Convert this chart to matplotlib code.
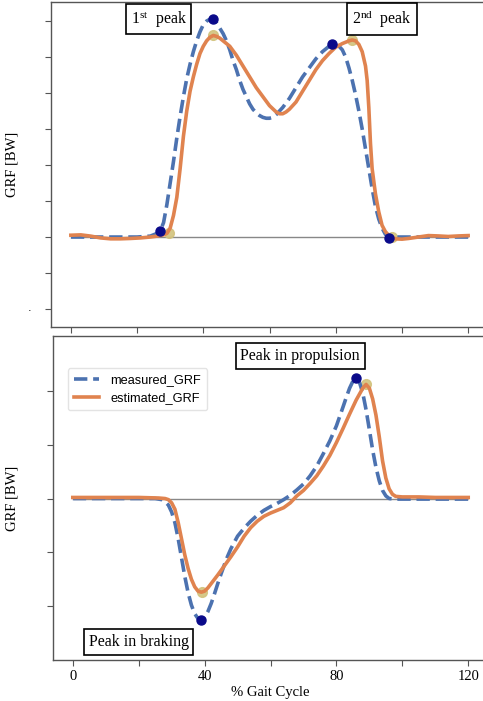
import numpy as np
import matplotlib
matplotlib.use("Agg")
import matplotlib.pyplot as plt

plt.rcParams['mathtext.fontset'] = 'custom'
plt.rcParams['mathtext.rm'] = 'Liberation Serif'
plt.rcParams['mathtext.it'] = 'Liberation Serif:italic'
serif = 'Liberation Serif'

# vertical GRF (top panel)
vx_meas = [0, 5, 10, 15, 20, 24, 26, 27, 28, 29, 30, 31, 32, 33, 34, 35, 36, 37, 38, 39,
           40, 41, 42, 43, 44, 45, 46, 47, 48, 49, 50, 51, 52, 53, 54, 55, 56, 57, 58, 59,
           60, 61, 62, 63, 64, 66, 68, 70, 72, 74, 76, 78, 79, 80, 81, 82, 83, 84, 85, 86,
           87, 88, 89, 90, 91, 92, 93, 94, 95, 96, 97, 98, 100, 105, 110, 115, 120]
vy_meas = [0, 0, 0, 0, 0, 0.005, 0.02, 0.035, 0.08, 0.18, 0.3, 0.42, 0.55, 0.67, 0.78, 0.88, 0.96, 1.03, 1.09, 1.14,
           1.18, 1.20, 1.21, 1.21, 1.19, 1.16, 1.13, 1.09, 1.04, 0.98, 0.93, 0.87, 0.82, 0.78, 0.74, 0.71, 0.69, 0.675, 0.665, 0.66,
           0.66, 0.665, 0.68, 0.70, 0.72, 0.77, 0.83, 0.89, 0.94, 0.99, 1.03, 1.06, 1.07, 1.07, 1.06, 1.04, 1.00, 0.94, 0.87, 0.79,
           0.70, 0.60, 0.49, 0.38, 0.27, 0.17, 0.10, 0.05, 0.015, 0.0, -0.005, 0, 0, 0, 0, 0, 0]

vx_est = [0, 3, 6, 9, 12, 15, 18, 21, 24, 26, 28, 29, 30, 31, 32, 33, 34, 35, 36, 37,
          38, 39, 40, 41, 42, 43, 44, 45, 46, 48, 50, 52, 54, 56, 58, 60, 62, 63, 64, 65,
          66, 68, 70, 72, 74, 76, 78, 80, 82, 84, 85, 86, 87, 88, 89, 89.5, 90, 90.5, 91, 92,
          93, 94, 95, 96, 97, 98, 100, 102, 105, 108, 111, 114, 117, 120]
vy_est = [0.01, 0.012, 0.005, -0.005, -0.01, -0.01, -0.008, -0.005, 0.0, 0.005, 0.012, 0.02, 0.05, 0.12, 0.22, 0.38, 0.56, 0.70, 0.81, 0.89,
          0.96, 1.02, 1.06, 1.09, 1.11, 1.12, 1.115, 1.105, 1.09, 1.06, 1.01, 0.95, 0.89, 0.83, 0.78, 0.73, 0.695, 0.685, 0.685, 0.695,
          0.71, 0.75, 0.81, 0.87, 0.93, 0.98, 1.02, 1.055, 1.075, 1.09, 1.095, 1.09, 1.07, 1.03, 0.95, 0.87, 0.72, 0.52, 0.38, 0.24,
          0.14, 0.065, 0.03, 0.01, 0.0, -0.01, -0.012, -0.008, 0.0, 0.008, 0.006, 0.003, 0.006, 0.008]

v_meas_peaks_x = [27, 43, 79, 96]
v_meas_peaks_y = [0.035, 1.21, 1.07, -0.005]
v_est_peaks_x = [29.5, 43, 85, 97]
v_est_peaks_y = [0.02, 1.12, 1.095, 0.0]

# anterior-posterior GRF (bottom panel)
ax_meas = [0, 5, 10, 15, 20, 25, 27, 28, 29, 30, 31, 32, 33, 34, 35, 36, 37, 38, 39, 40,
           41, 42, 43, 44, 45, 46, 47, 48, 50, 52, 54, 56, 58, 60, 62, 64, 66, 68, 70, 72,
           74, 76, 78, 80, 82, 83, 84, 85, 86, 87, 88, 89, 90, 91, 92, 93, 94, 95, 96, 98,
           100, 105, 110, 115, 120]
ay_meas = [0, 0, 0, 0, 0, 0, -0.002, -0.006, -0.012, -0.025, -0.045, -0.075, -0.11, -0.145, -0.175, -0.198, -0.214, -0.223, -0.226, -0.221,
           -0.21, -0.195, -0.177, -0.158, -0.14, -0.123, -0.107, -0.093, -0.07, -0.055, -0.042, -0.031, -0.022, -0.015, -0.009, -0.002, 0.006, 0.016, 0.027, 0.042,
           0.06, 0.083, 0.107, 0.135, 0.17, 0.188, 0.205, 0.218, 0.224, 0.216, 0.196, 0.165, 0.128, 0.09, 0.058, 0.033, 0.015, 0.005, 0.0, -0.001,
           -0.001, -0.001, -0.001, -0.001, -0.001]

ax_est = [0, 10, 20, 26, 28, 29, 30, 31, 32, 33, 34, 35, 36, 37, 38, 39, 40, 41, 42, 44,
          46, 48, 50, 52, 54, 56, 58, 60, 62, 64, 66, 68, 70, 72, 74, 76, 78, 80, 82, 84,
          86, 88, 89, 90, 91, 92, 93, 94, 95, 96, 97, 98, 100, 105, 110, 115, 120]
ay_est = [0.002, 0.002, 0.002, 0.001, 0.0, -0.002, -0.008, -0.02, -0.045, -0.075, -0.105, -0.13, -0.15, -0.164, -0.172, -0.174, -0.172, -0.166, -0.158, -0.142,
          -0.125, -0.108, -0.09, -0.07, -0.054, -0.042, -0.033, -0.027, -0.022, -0.017, -0.008, 0.005, 0.015, 0.028, 0.042, 0.06, 0.08, 0.104, 0.13, 0.157,
          0.183, 0.205, 0.212, 0.205, 0.185, 0.155, 0.115, 0.07, 0.038, 0.018, 0.008, 0.004, 0.003, 0.003, 0.002, 0.002, 0.002]

a_meas_peaks_x = [39, 86]
a_meas_peaks_y = [-0.226, 0.224]
a_est_peaks_x = [39.2, 89]
a_est_peaks_y = [-0.174, 0.213]

blue = '#4c72b0'
orange = '#e0834f'
navy = '#0a0a8a'
khaki = '#d2c27c'
spine_col = '#555555'

W, H = 483, 701
fig = plt.figure(figsize=(W / 100, H / 100), dpi=100)
ax1 = fig.add_axes([51 / W, 1 - 327 / H, (488 - 51) / W, 325 / H])
ax2 = fig.add_axes([53 / W, 1 - 660 / H, (488 - 53) / W, 324 / H])


def style(ax):
    ax.set_xlim(-6, 126)
    for s in ax.spines.values():
        s.set_color(spine_col)
        s.set_linewidth(1.0)
    ax.tick_params(colors=spine_col, length=4, width=0.8, labelcolor='black')
    ax.hlines(0, 0, 120, color='#888888', lw=1.0, zorder=1)


box = dict(boxstyle='square,pad=0.3', facecolor='white', edgecolor='black', linewidth=1.2)

# top panel
style(ax1)
ax1.plot(vx_meas, vy_meas, '--', color=blue, lw=2.6, zorder=3)
ax1.plot(vx_est, vy_est, '-', color=orange, lw=2.6, zorder=3)
ax1.plot(v_est_peaks_x, v_est_peaks_y, 'o', color=khaki, ms=7, alpha=0.9, zorder=2.5)
ax1.plot(v_meas_peaks_x, v_meas_peaks_y, 'o', color=navy, ms=6.5, zorder=4)
ax1.set_ylim(-0.5, 1.306)
ax1.set_yticks(np.arange(-0.4, 1.21, 0.2))
ax1.set_yticklabels([])
ax1.set_xticks(range(0, 121, 20))
ax1.set_xticklabels([])
ax1.set_ylabel('GRF [BW]', family=serif, fontsize=10.5)
ax1.yaxis.set_label_coords((18 - 51) / 437, 0.5)
ax1.text(26.5, 1.21, r'1$^{\mathrm{st}}$  peak', family=serif, fontsize=11.5,
         ha='center', va='center', bbox=box, zorder=5)
ax1.text(94, 1.21, r'2$^{\mathrm{nd}}$  peak', family=serif, fontsize=11.5,
         ha='center', va='center', bbox=box, zorder=5)
fig.text(28 / W, 1 - 311 / H, '.', fontsize=8)

# bottom panel
style(ax2)
ax2.plot(ax_meas, ay_meas, '--', color=blue, lw=2.6, zorder=3, label='measured_GRF')
ax2.plot(ax_est, ay_est, '-', color=orange, lw=2.6, zorder=3, label='estimated_GRF')
ax2.plot(a_est_peaks_x, a_est_peaks_y, 'o', color=khaki, ms=7, alpha=0.9, zorder=2.5)
ax2.plot(a_meas_peaks_x, a_meas_peaks_y, 'o', color=navy, ms=6.5, zorder=4)
ax2.set_ylim(-0.3, 0.302)
ax2.set_yticks([-0.2, -0.1, 0, 0.1, 0.2])
ax2.set_yticklabels([])
ax2.set_xticks(range(0, 121, 20))
ax2.set_xticklabels(['0', '', '40', '', '80', '', '120'], family=serif, fontsize=10.5)
ax2.set_xlabel('% Gait Cycle', family=serif, fontsize=10.5, labelpad=2)
ax2.set_ylabel('GRF [BW]', family=serif, fontsize=10.5)
ax2.yaxis.set_label_coords((18 - 53) / 435, 0.5)
ax2.text(69, 0.265, 'Peak in propulsion', family=serif, fontsize=11.5,
         ha='center', va='center', bbox=box, zorder=5)
ax2.text(20, -0.267, 'Peak in braking', family=serif, fontsize=11.5,
         ha='center', va='center', bbox=box, zorder=5)
leg = ax2.legend(loc='upper left', bbox_to_anchor=(0.034, 0.9), borderaxespad=0,
                 prop={'family': 'Liberation Sans', 'size': 9.2},
                 handlelength=2.0, handletextpad=0.9, frameon=True, fancybox=True,
                 borderpad=0.45, labelspacing=0.5)
leg.get_frame().set_edgecolor('#dddddd')

fig.savefig('out.png', dpi=100)
